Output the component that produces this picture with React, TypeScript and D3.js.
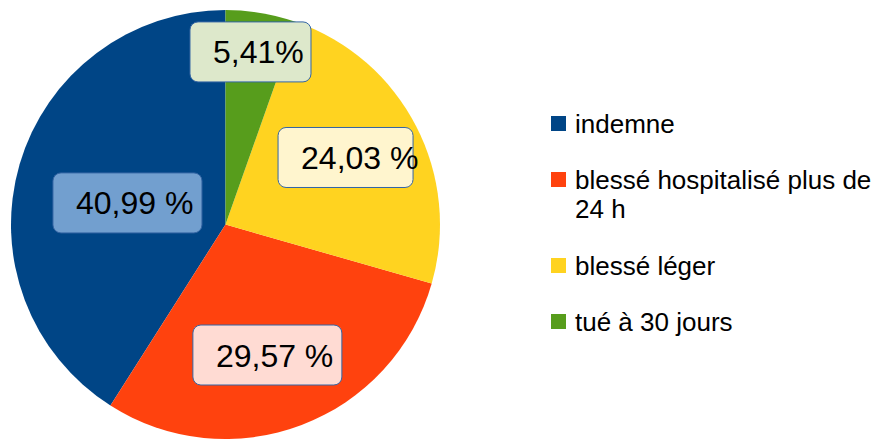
import React, { useEffect, useRef } from "react";
import * as d3 from "d3";

const categories = ["indemne", "blessé hospitalisé plus de 24 h", "blessé léger", "tué à 30 jours"];
const values = [40.99, 29.57, 24.03, 5.41];
const valueLabels = ["40,99 %", "29,57 %", "24,03 %", "5,41%"];

const colors = ["#004586", "#ff420e", "#ffd320", "#579d1c"];
const labelFills = ["#729fcf", "#ffdbd3", "#fff5ce", "#dde8cb"];
// label layout (LibreOffice-ish placement): radius fraction + small angle nudge in degrees
const labelRadius = [0.468, 0.639, 0.641, 0.813];
const labelNudge = [-3.8, 3, -1.9, -1.5];
const labelBoxW = [149, 149, 135, 121];

const W = 880;
const H = 439;
const FONT = "'Liberation Sans', Arial, sans-serif";

const App = () => {
  const ref = useRef<SVGSVGElement | null>(null);

  useEffect(() => {
    const svg = d3.select(ref.current);
    svg.selectAll("*").remove();

    const cx = 225.5;
    const cy = 224.5;
    const r = 214.5;

    const pie = d3
      .pie<number>()
      .value((d) => d)
      .sort(null)
      .startAngle(0)
      .endAngle(-2 * Math.PI);

    const arcs = pie(values);
    const arc = d3.arc<d3.PieArcDatum<number>>().innerRadius(0).outerRadius(r);

    const g = svg.append("g").attr("transform", `translate(${cx},${cy})`);

    g.selectAll("path.slice")
      .data(arcs)
      .enter()
      .append("path")
      .attr("class", "slice")
      .attr("d", arc)
      .attr("fill", (d, i) => colors[i]);

    // value labels in rounded boxes
    arcs.forEach((d, i) => {
      const mid = (d.startAngle + d.endAngle) / 2 + (labelNudge[i] * Math.PI) / 180;
      const lr = r * labelRadius[i];
      const x = lr * Math.sin(mid);
      const y = -lr * Math.cos(mid);
      const bw = labelBoxW[i];
      const bh = 60;
      g.append("rect")
        .attr("x", x - bw / 2)
        .attr("y", y - bh / 2)
        .attr("width", bw)
        .attr("height", bh)
        .attr("rx", 8)
        .attr("fill", labelFills[i])
        .attr("stroke", "#3465a4")
        .attr("stroke-width", 1);
      g.append("text")
        .attr("x", x - bw / 2 + 23)
        .attr("y", y + 11.5)
        .attr("font-family", FONT)
        .attr("font-size", 32)
        .attr("fill", "#000")
        .text(valueLabels[i]);
    });

    // legend
    const legend = svg.append("g");
    const maxW = 315;
    let extra = 0;
    categories.forEach((name, i) => {
      const yc = 123.5 + 56 * i + 30 * extra;
      legend
        .append("rect")
        .attr("x", 551)
        .attr("y", yc - 7.5)
        .attr("width", 15)
        .attr("height", 15)
        .attr("fill", colors[i]);
      const t = legend
        .append("text")
        .attr("font-family", FONT)
        .attr("font-size", 26)
        .attr("fill", "#000");
      const words = name.split(" ");
      let line: string[] = [];
      let lineNo = 0;
      let ts = t.append("tspan").attr("x", 575).attr("y", yc + 9);
      words.forEach((w) => {
        line.push(w);
        ts.text(line.join(" "));
        const node = ts.node() as SVGTSpanElement;
        if (node.getComputedTextLength() > maxW && line.length > 1) {
          line.pop();
          ts.text(line.join(" "));
          line = [w];
          lineNo++;
          ts = t
            .append("tspan")
            .attr("x", 575)
            .attr("y", yc + 9 + 29 * lineNo)
            .text(w);
        }
      });
      extra += lineNo;
    });
  }, []);

  return (
    <svg
      ref={ref}
      width={W}
      height={H}
      style={{ position: "absolute", left: 0, top: 0, display: "block", background: "#fff" }}
    />
  );
};

export default App;
